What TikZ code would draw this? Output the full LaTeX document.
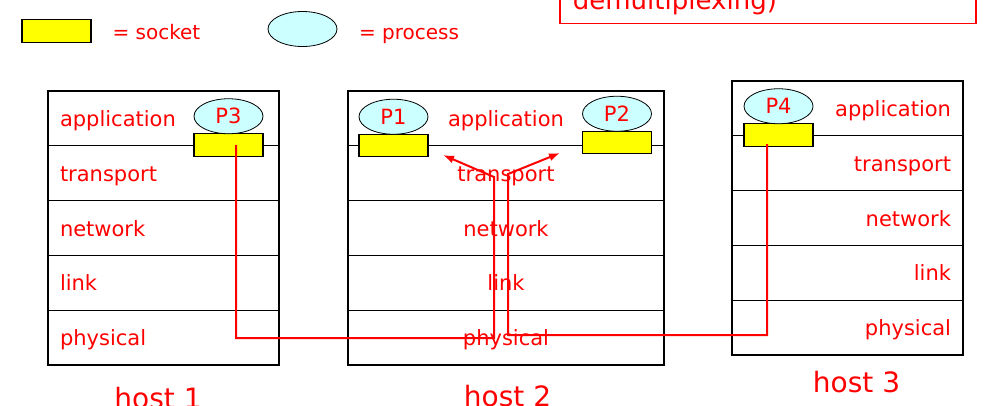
\documentclass[tikz,border=0pt]{standalone}
\usepackage{fontspec}
\setmainfont{DejaVu Sans}
\usetikzlibrary{arrows.meta,positioning,shapes.geometric}
\definecolor{sockyellow}{HTML}{FFFF00}
\definecolor{proccyan}{HTML}{CCFFFF}
\definecolor{labelred}{HTML}{FF0000}

\begin{document}
\begin{tikzpicture}[
  x=1pt,y=-1pt,
  layer/.style={rectangle,draw=black,line width=1.2pt,outer sep=0pt,inner xsep=12pt,inner ysep=0pt,
                minimum height=54.8pt,text height=16pt,text depth=0pt,text=labelred,
                font=\fontsize{21}{25}\selectfont},
  leftlayer/.style={layer,text width=207pt,align=left},
  midlayer/.style={layer,text width=292pt,align=center},
  rightlayer/.style={layer,text width=207pt,align=right},
  socket/.style={rectangle,draw=black,line width=1.2pt,fill=sockyellow,outer sep=0pt,
                 minimum width=69pt,minimum height=22.5pt,inner sep=0pt},
  process/.style={ellipse,draw=black,line width=0.8pt,fill=proccyan,outer sep=0pt,
                  minimum width=69pt,minimum height=35pt,inner sep=0pt,text=labelred,
                  font=\fontsize{21}{25}\selectfont},
  legtext/.style={text=labelred,font=\fontsize{20}{24}\selectfont},
  hostname/.style={text=labelred,font=\fontsize{28}{32}\selectfont},
  note/.style={rectangle,draw=labelred,line width=1.8pt,text=labelred,inner xsep=13pt,inner ysep=8pt,
               text width=390pt,align=left,font=\fontsize{26}{30}\selectfont},
  flow/.style={-{Latex[length=11pt,width=8pt]},draw=labelred,line width=2pt}
]
  \useasboundingbox (0,0) rectangle (1003,406);
  \clip (0,0) rectangle (1003,406);

  \node[leftlayer] (h1app) at (163.5,118.4) {application};
  \node[leftlayer,below=0pt of h1app] (h1trn) {transport};
  \node[leftlayer,below=0pt of h1trn] (h1net) {network};
  \node[leftlayer,below=0pt of h1net] (h1lnk) {link};
  \node[leftlayer,below=0pt of h1lnk] (h1phy) {physical};

  \node[midlayer] (h2app) at (506,118.4) {application};
  \node[midlayer,below=0pt of h2app] (h2trn) {transport};
  \node[midlayer,below=0pt of h2trn] (h2net) {network};
  \node[midlayer,below=0pt of h2net] (h2lnk) {link};
  \node[midlayer,below=0pt of h2lnk] (h2phy) {physical};

  \node[rightlayer] (h3app) at (847.5,108.4) {application};
  \node[rightlayer,below=0pt of h3app] (h3trn) {transport};
  \node[rightlayer,below=0pt of h3trn] (h3net) {network};
  \node[rightlayer,below=0pt of h3net] (h3lnk) {link};
  \node[rightlayer,below=0pt of h3lnk] (h3phy) {physical};

  \node[socket] (s3) at (228.5,145) {};
  \node[socket] (s1) at (393.5,145.5) {};
  \node[socket] (s2) at (617,142.5) {};
  \node[socket] (s4) at (778.5,135) {};
  \node[process,above=0pt of s3] (p3) {P3};
  \node[process,above=0pt of s1] (p1) {P1};
  \node[process,above=0pt of s2] (p2) {P2};
  \node[process,above=0pt of s4] (p4) {P4};

  \coordinate (bendA) at (494,338);
  \coordinate (riseA) at (494,177);
  \coordinate (tipA) at (443,155);
  \coordinate (bendB) at (508,335);
  \coordinate (riseB) at (508,174);
  \coordinate (tipB) at (560,153);
  \draw[flow] ([xshift=7.5pt]s3.center) |- (bendA) -- (riseA) -- (tipA);
  \draw[flow] ([xshift=-11.5pt,yshift=2pt]s4.south) |- (bendB) -- (riseB) -- (tipB);

  \node[socket] (legsocket) at (56.5,31) {};
  \node[legtext,anchor=base west] (legsockettext) at (109,40) {= socket};
  \node[process] (legprocess) at (302.5,29) {};
  \node[legtext,anchor=base west] (legprocesstext) at (355.5,40) {= process};

  \node[note,anchor=base west] (note) at (559,10) {demultiplexing)};

  \node[hostname,below=18.7pt of h1phy,xshift=-5.5pt] (h1name) {host 1};
  \node[hostname,below=16.7pt of h2phy,xshift=1.5pt] (h2name) {host 2};
  \node[hostname,below=12.7pt of h3phy,xshift=9pt] (h3name) {host 3};
\end{tikzpicture}
\end{document}
